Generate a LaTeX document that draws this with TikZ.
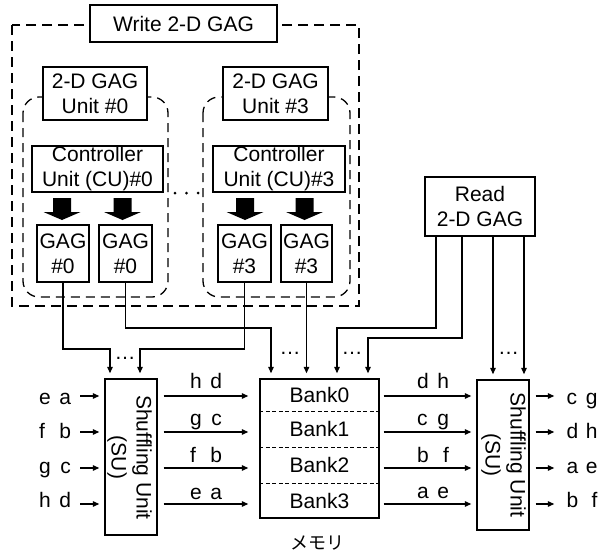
\documentclass[tikz,border=0pt]{standalone}
\usepackage{fontspec}
\setmainfont{Liberation Sans}
\newfontfamily\jpfont{Noto Sans CJK JP}
\usetikzlibrary{arrows.meta}
\begin{document}
\begin{tikzpicture}[x=1pt,y=-1pt,
  box/.style={draw, line width=1.4pt, fill=white, inner sep=0pt, align=center, font=\fontsize{21}{25}\selectfont},
  arr/.style={line width=1.3pt, -{Triangle[length=6.5pt,width=5.5pt]}},
  lbl/.style={inner sep=0pt, anchor=base, font=\fontsize{21}{25}\selectfont},
  banklbl/.style={inner sep=0pt, text height=15pt, text depth=0pt, font=\fontsize{21}{25}\selectfont},
  outerframe/.style={line width=2.4pt, dash pattern=on 10pt off 6pt},
  innerframe/.style={line width=1.3pt, dash pattern=on 9pt off 6pt, rounded corners=16pt},
  divider/.style={line width=0.9pt, dash pattern=on 4pt off 2.5pt},
  blockarr/.pic={\fill (-9,0) -- (9,0) -- (9,14) -- (18.5,14) -- (0,22) -- (-18.5,14) -- (-9,14) -- cycle;}
]
\useasboundingbox (0,0) rectangle (600,554);
\fill[white] (0,0) rectangle (600,554);

% dashed frames
\draw[outerframe] (12,25) rectangle (359,306);
\draw[innerframe] (23,97) rectangle (168,297);
\draw[innerframe] (203,97) rectangle (350,297);

% write side boxes
\node[box, minimum width=187pt, minimum height=37pt] (write) at (183.5,23.5) {Write 2-D GAG};
\node[box, minimum width=104pt, minimum height=53pt] (unit0) at (95,93.5) {2-D GAG\\Unit \#0};
\node[box, minimum width=105pt, minimum height=53pt] (unit3) at (275.5,93.5) {2-D GAG\\Unit \#3};
\node[box, minimum width=131pt, minimum height=46pt] (cu0) at (97.5,169) {Controller\\Unit (CU)\#0};
\node[box, minimum width=132pt, minimum height=46pt] (cu3) at (279,169) {Controller\\Unit (CU)\#3};
\node[box, minimum width=52pt, minimum height=57pt] (g0a) at (63,253.5) {GAG\\\#0};
\node[box, minimum width=53pt, minimum height=57pt] (g0b) at (125.5,253.5) {GAG\\\#0};
\node[box, minimum width=53pt, minimum height=57pt] (g3a) at (244.5,253.5) {GAG\\\#3};
\node[box, minimum width=51pt, minimum height=57pt] (g3b) at (306.5,253.5) {GAG\\\#3};

% dots between units
\fill (175,193) circle (1.5) (186.5,193) circle (1.5) (198,193) circle (1.5);

% block arrows
\pic at (62,198) {blockarr};
\pic at (122.5,198) {blockarr};
\pic at (245,198) {blockarr};
\pic at (304.5,198) {blockarr};

% read box
\node[box, minimum width=110pt, minimum height=59pt] (read) at (480,206.5) {Read\\2-D GAG};

% lower units
\node[box, minimum width=52pt, minimum height=156pt] (su1) at (131,457) {};
\node[inner sep=0pt, rotate=-90, align=center, font=\fontsize{21}{25}\selectfont] (su1t) at (129.5,457.5) {Shuffling Unit\\(SU)};
\node[box, minimum width=119pt, minimum height=139pt] (mem) at (319.5,448.5) {};
\node[box, minimum width=52pt, minimum height=150pt] (su2) at (503,455) {};
\node[inner sep=0pt, rotate=-90, align=center, font=\fontsize{21}{25}\selectfont] (su2t) at (503.5,455) {Shuffling Unit\\(SU)};

% memory banks
\coordinate (d1) at (0,411);
\coordinate (d2) at (0,447);
\coordinate (d3) at (0,483);
\draw[divider] (mem.west |- d1) -- (mem.east |- d1);
\draw[divider] (mem.west |- d2) -- (mem.east |- d2);
\draw[divider] (mem.west |- d3) -- (mem.east |- d3);
\node[banklbl] (b0) at (319.5,395) {Bank0};
\node[banklbl] (b1) at (319.5,429) {Bank1};
\node[banklbl] (b2) at (319.5,465) {Bank2};
\node[banklbl] (b3) at (319.5,500.5) {Bank3};
\node[inner sep=0pt, font=\jpfont\fontsize{18}{18}\selectfont] (memlbl) at (317,543) {メモリ};

% GAG address lines
\coordinate (j1) at (110,349);
\coordinate (j2) at (140,349);
\coordinate (j3) at (271,328);
\draw[arr, shorten >=5pt] (g0a.south) |- (j1) -- (j1 |- su1.north);
\draw[arr, shorten >=5pt] (g3a.south) |- (j2) -- (j2 |- su1.north);
\draw[arr, shorten >=5pt] (g0b.south) |- (j3) -- (j3 |- mem.north);
\draw[arr, shorten >=5pt] (g3b.south) -- (g3b.south |- mem.north);

\coordinate (ra) at ([xshift=-44pt]read.south);
\coordinate (rb) at ([xshift=-18pt]read.south);
\coordinate (rc) at ([xshift=13pt]read.south);
\coordinate (rd) at ([xshift=44pt]read.south);
\coordinate (k1) at (337,328);
\coordinate (k2) at (368,338);
\draw[arr, shorten >=5pt] (ra) |- (k1) -- (k1 |- mem.north);
\draw[arr, shorten >=5pt] (rb) |- (k2) -- (k2 |- mem.north);
\draw[arr, shorten >=5pt] (rc) -- (rc |- su2.north);
\draw[arr, shorten >=5pt] (rd) -- (rd |- su2.north);

\node[lbl] at (125,359) {…};
\node[lbl] at (290,354) {…};
\node[lbl] at (352,354) {…};
\node[lbl] at (508.5,354) {…};

% rows
\coordinate (y1) at (0,396);
\coordinate (y2) at (0,432);
\coordinate (y3) at (0,468);
\coordinate (y4) at (0,504);

% inputs
\node[lbl] (ia) at (55,404) {\makebox[32pt]{e\hfill a}};
\node[lbl] (ib) at (55,438) {\makebox[32pt]{f\hfill b}};
\node[lbl] (ic) at (55,473) {\makebox[32pt]{g\hfill c}};
\node[lbl] (id) at (55,507) {\makebox[32pt]{h\hfill d}};
\draw[arr, shorten <=9pt, shorten >=5pt] (ia.east |- y1) -- (su1.west |- y1);
\draw[arr, shorten <=9pt, shorten >=5pt] (ib.east |- y2) -- (su1.west |- y2);
\draw[arr, shorten <=9pt, shorten >=5pt] (ic.east |- y3) -- (su1.west |- y3);
\draw[arr, shorten <=9pt, shorten >=5pt] (id.east |- y4) -- (su1.west |- y4);

% SU1 -> memory
\draw[arr, shorten <=6pt, shorten >=11pt] (su1.east |- y1) -- (mem.west |- y1);
\draw[arr, shorten <=6pt, shorten >=11pt] (su1.east |- y2) -- (mem.west |- y2);
\draw[arr, shorten <=6pt, shorten >=11pt] (su1.east |- y3) -- (mem.west |- y3);
\draw[arr, shorten <=6pt, shorten >=11pt] (su1.east |- y4) -- (mem.west |- y4);
\node[lbl] (la) at (206,388) {\makebox[32pt]{h\hfill d}};
\node[lbl] (lb) at (206,425) {\makebox[32pt]{g\hfill c}};
\node[lbl] (lc) at (206,462) {\makebox[32pt]{f\hfill b}};
\node[lbl] (ld) at (206,499) {\makebox[32pt]{e\hfill a}};

% memory -> SU2
\draw[arr, shorten <=4pt, shorten >=5pt] (mem.east |- y1) -- (su2.west |- y1);
\draw[arr, shorten <=4pt, shorten >=5pt] (mem.east |- y2) -- (su2.west |- y2);
\draw[arr, shorten <=4pt, shorten >=5pt] (mem.east |- y3) -- (su2.west |- y3);
\draw[arr, shorten <=4pt, shorten >=5pt] (mem.east |- y4) -- (su2.west |- y4);
\node[lbl] (ma) at (433,388) {\makebox[32pt]{d\hfill h}};
\node[lbl] (mb) at (433,425) {\makebox[32pt]{c\hfill g}};
\node[lbl] (mc) at (433,462) {\makebox[32pt]{b\hfill f}};
\node[lbl] (md) at (433,498) {\makebox[32pt]{a\hfill e}};

% outputs
\node[lbl] (oa) at (582,404) {\makebox[31pt]{c\hfill g}};
\node[lbl] (ob) at (582,438) {\makebox[31pt]{d\hfill h}};
\node[lbl] (oc) at (582,473) {\makebox[31pt]{a\hfill e}};
\node[lbl] (od) at (582,507) {\makebox[31pt]{b\hfill f}};
\draw[arr, shorten <=6pt, shorten >=12pt] (su2.east |- y1) -- (oa.west |- y1);
\draw[arr, shorten <=6pt, shorten >=12pt] (su2.east |- y2) -- (ob.west |- y2);
\draw[arr, shorten <=6pt, shorten >=12pt] (su2.east |- y3) -- (oc.west |- y3);
\draw[arr, shorten <=6pt, shorten >=12pt] (su2.east |- y4) -- (od.west |- y4);
\end{tikzpicture}
\end{document}
